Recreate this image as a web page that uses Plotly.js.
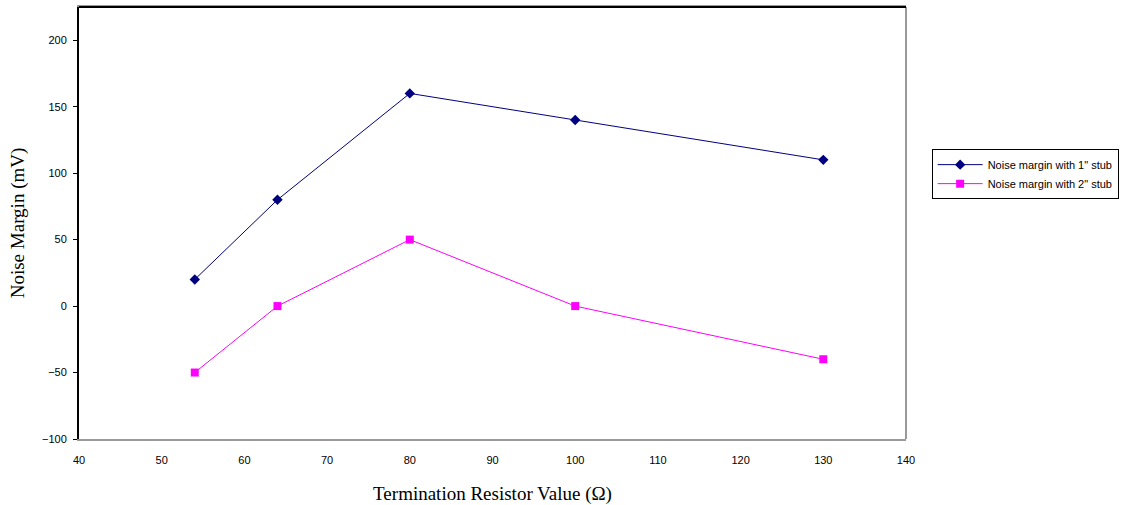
<!DOCTYPE html>
<html>
<head>
<meta charset="utf-8">
<script src="https://cdn.plot.ly/plotly-3.0.1.min.js"></script>
<style>html,body{margin:0;padding:0;background:#fff;}#chart{width:1139px;height:505px;}</style>
</head>
<body>
<div id="chart"></div>
<script>
const resistorValues = [54, 64, 80, 100, 130];
const margin1Stub = [20, 80, 160, 140, 110];
const margin2Stub = [-50, 0, 50, 0, -40];
const seriesNames = ['Noise margin with 1" stub', 'Noise margin with 2" stub'];

const traces = [
  {x: resistorValues, y: margin1Stub, name: seriesNames[0], type: 'scatter', mode: 'lines+markers',
   line: {color: '#000080', width: 1}, marker: {symbol: 'diamond', size: 8, color: '#000080'}},
  {x: resistorValues, y: margin2Stub, name: seriesNames[1], type: 'scatter', mode: 'lines+markers',
   line: {color: '#FF00FF', width: 1}, marker: {symbol: 'square', size: 8, color: '#FF00FF'}}
];

const layout = {
  width: 1139, height: 505,
  margin: {l: 79, r: 233, t: 7, b: 66},
  paper_bgcolor: '#fff', plot_bgcolor: '#fff',
  showlegend: true,
  legend: {x: 1.031, y: 0.671, xanchor: 'left', yanchor: 'top', bordercolor: '#000', borderwidth: 1,
    font: {family: 'Arial, Liberation Sans, sans-serif', size: 11, color: '#000'}, tracegroupgap: 0, itemwidth: 45},
  xaxis: {range: [40, 140], dtick: 10, tick0: 40, showgrid: false, zeroline: false,
    showline: true, linecolor: '#999', linewidth: 2, mirror: true, ticks: '', ticklabelstandoff: 10,
    tickfont: {family: 'Arial, Liberation Sans, sans-serif', size: 11, color: '#000'},
    title: {text: 'Termination Resistor Value (Ω)', font: {family: 'Times New Roman, Liberation Serif, serif', size: 19, color: '#000'}, standoff: 21}},
  yaxis: {range: [-100, 225], tickvals: [-100, -50, 0, 50, 100, 150, 200], showgrid: false, zeroline: false,
    showline: true, linecolor: '#000', linewidth: 2, ticks: 'outside', ticklen: 4, tickcolor: '#000', ticklabelstandoff: 4,
    tickfont: {family: 'Arial, Liberation Sans, sans-serif', size: 11, color: '#000'},
    title: {text: 'Noise Margin (mV)', font: {family: 'Times New Roman, Liberation Serif, serif', size: 19, color: '#000'}, standoff: 12}},
  shapes: [
    {type: 'line', xref: 'paper', yref: 'paper', x0: 1, x1: 1, y0: 0, y1: 1, line: {color: '#999', width: 2}},
    {type: 'line', xref: 'paper', yref: 'paper', x0: 0, x1: 1, y0: 1, y1: 1, line: {color: '#000', width: 2}}
  ]
};

Plotly.newPlot('chart', traces, layout, {displayModeBar: false, staticPlot: true});
</script>
</body>
</html>
